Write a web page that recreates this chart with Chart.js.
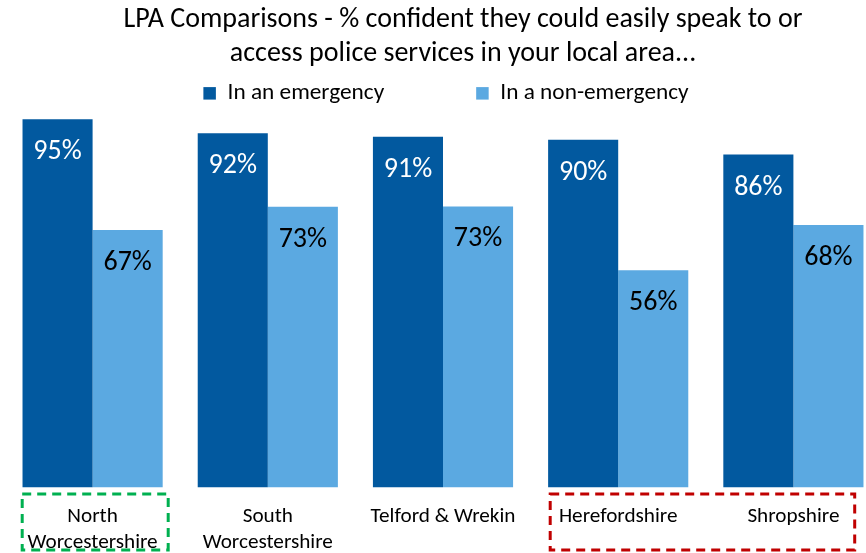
<!DOCTYPE html>
<html><head><meta charset="utf-8">
<script src="https://cdn.jsdelivr.net/npm/chart.js@4.4.1/dist/chart.umd.min.js"></script>
<style>
html,body{margin:0;padding:0;background:#fff;overflow:hidden;width:866px;height:553px;}
#wrap{position:absolute;left:0;top:0;width:900px;height:553px;}
</style></head><body>
<div id="wrap"><canvas id="c" width="900" height="553"></canvas></div>
<script>
const categories = [["North", "Worcestershire"], ["South", "Worcestershire"], "Telford & Wrekin", "Herefordshire", "Shropshire"];
const seriesNames = ["In an emergency", "In a non-emergency"];
const emergency = [95.1, 91.5, 90.6, 89.8, 86.0];
const nonEmergency = [66.5, 72.5, 72.6, 56.1, 67.8];
const titleLines = ["LPA Comparisons - % confident they could easily speak to or", "access police services in your local area..."];

const FONT = "Carlito, Lato, sans-serif";
const DARK = "#02599F", LIGHT = "#5BA9E1";

const highlightBoxes = [
  {from: 0, to: 0, color: "#00B050", left: -70.4, right: 75.6},
  {from: 3, to: 4, color: "#C00000", left: -68, right: 61.3}
];

const dataLabels = {
  id: 'dataLabels',
  afterDatasetsDraw(chart) {
    const ctx = chart.ctx;
    ctx.save();
    ctx.font = "28px " + FONT;
    ctx.textAlign = 'center';
    ctx.textBaseline = 'middle';
    chart.data.datasets.forEach((ds, di) => {
      const meta = chart.getDatasetMeta(di);
      meta.data.forEach((bar, i) => {
        ctx.fillStyle = di === 0 ? '#ffffff' : '#000000';
        ctx.fillText(Math.round(ds.data[i]) + '%', bar.x, bar.y + 33);
      });
    });
    ctx.restore();
  }
};

const boxesPlugin = {
  id: 'highlightBoxes',
  afterDraw(chart) {
    const ctx = chart.ctx, x = chart.scales.x;
    const top = chart.chartArea.bottom + 6.5, bottom = 550;
    ctx.save();
    ctx.lineWidth = 3;
    ctx.setLineDash([9, 6]);
    highlightBoxes.forEach(b => {
      const l = x.getPixelForValue(b.from) + b.left;
      const r = x.getPixelForValue(b.to) + b.right;
      ctx.strokeStyle = b.color;
      ctx.strokeRect(l, top, r - l, bottom - top);
    });
    ctx.restore();
  }
};

const LEGEND_PAD = 92;
const shiftPlugin = {
  id: 'shiftBlocks',
  afterLayout(chart) {
    const t = chart.titleBlock;
    if (t) { t.left += 20; t.right += 20; }
    const lg = chart.legend;
    if (lg) {
      lg.left += 3; lg.right += 3;
      lg.top = 81.7 - LEGEND_PAD;
      lg.bottom = 112;
      lg.height = lg.bottom - lg.top;
    }
  }
};

new Chart(document.getElementById('c'), {
  type: 'bar',
  data: {
    labels: categories,
    datasets: [
      {label: seriesNames[0], data: emergency, backgroundColor: DARK, categoryPercentage: 0.8, barPercentage: 1.0},
      {label: seriesNames[1], data: nonEmergency, backgroundColor: LIGHT, categoryPercentage: 0.8, barPercentage: 1.0}
    ]
  },
  options: {
    responsive: false,
    animation: false,
    layout: {padding: {left: 5, right: 19, top: 0, bottom: 0}},
    plugins: {
      title: {display: true, text: titleLines, color: '#000', font: {family: FONT, size: 28, weight: 'normal', lineHeight: 34 / 28}, padding: {top: 2.5, bottom: 0}},
      legend: {
        display: true,
        maxHeight: 29.8,
        labels: {color: '#000', font: {family: FONT, size: 23.3}, boxWidth: 12.5, boxHeight: 12.5, padding: LEGEND_PAD}
      },
      tooltip: {enabled: false}
    },
    scales: {
      y: {display: false, min: 0, max: 100},
      x: {
        grid: {display: false, drawTicks: false}, border: {display: false},
        ticks: {color: '#000', font: {family: FONT, size: 21.2, lineHeight: 26.7 / 21.2}, padding: 15.5, maxRotation: 0, autoSkip: false},
        afterFit(scale) { scale.height = 65.5; }
      }
    }
  },
  plugins: [dataLabels, boxesPlugin, shiftPlugin]
});
</script>
</body></html>
